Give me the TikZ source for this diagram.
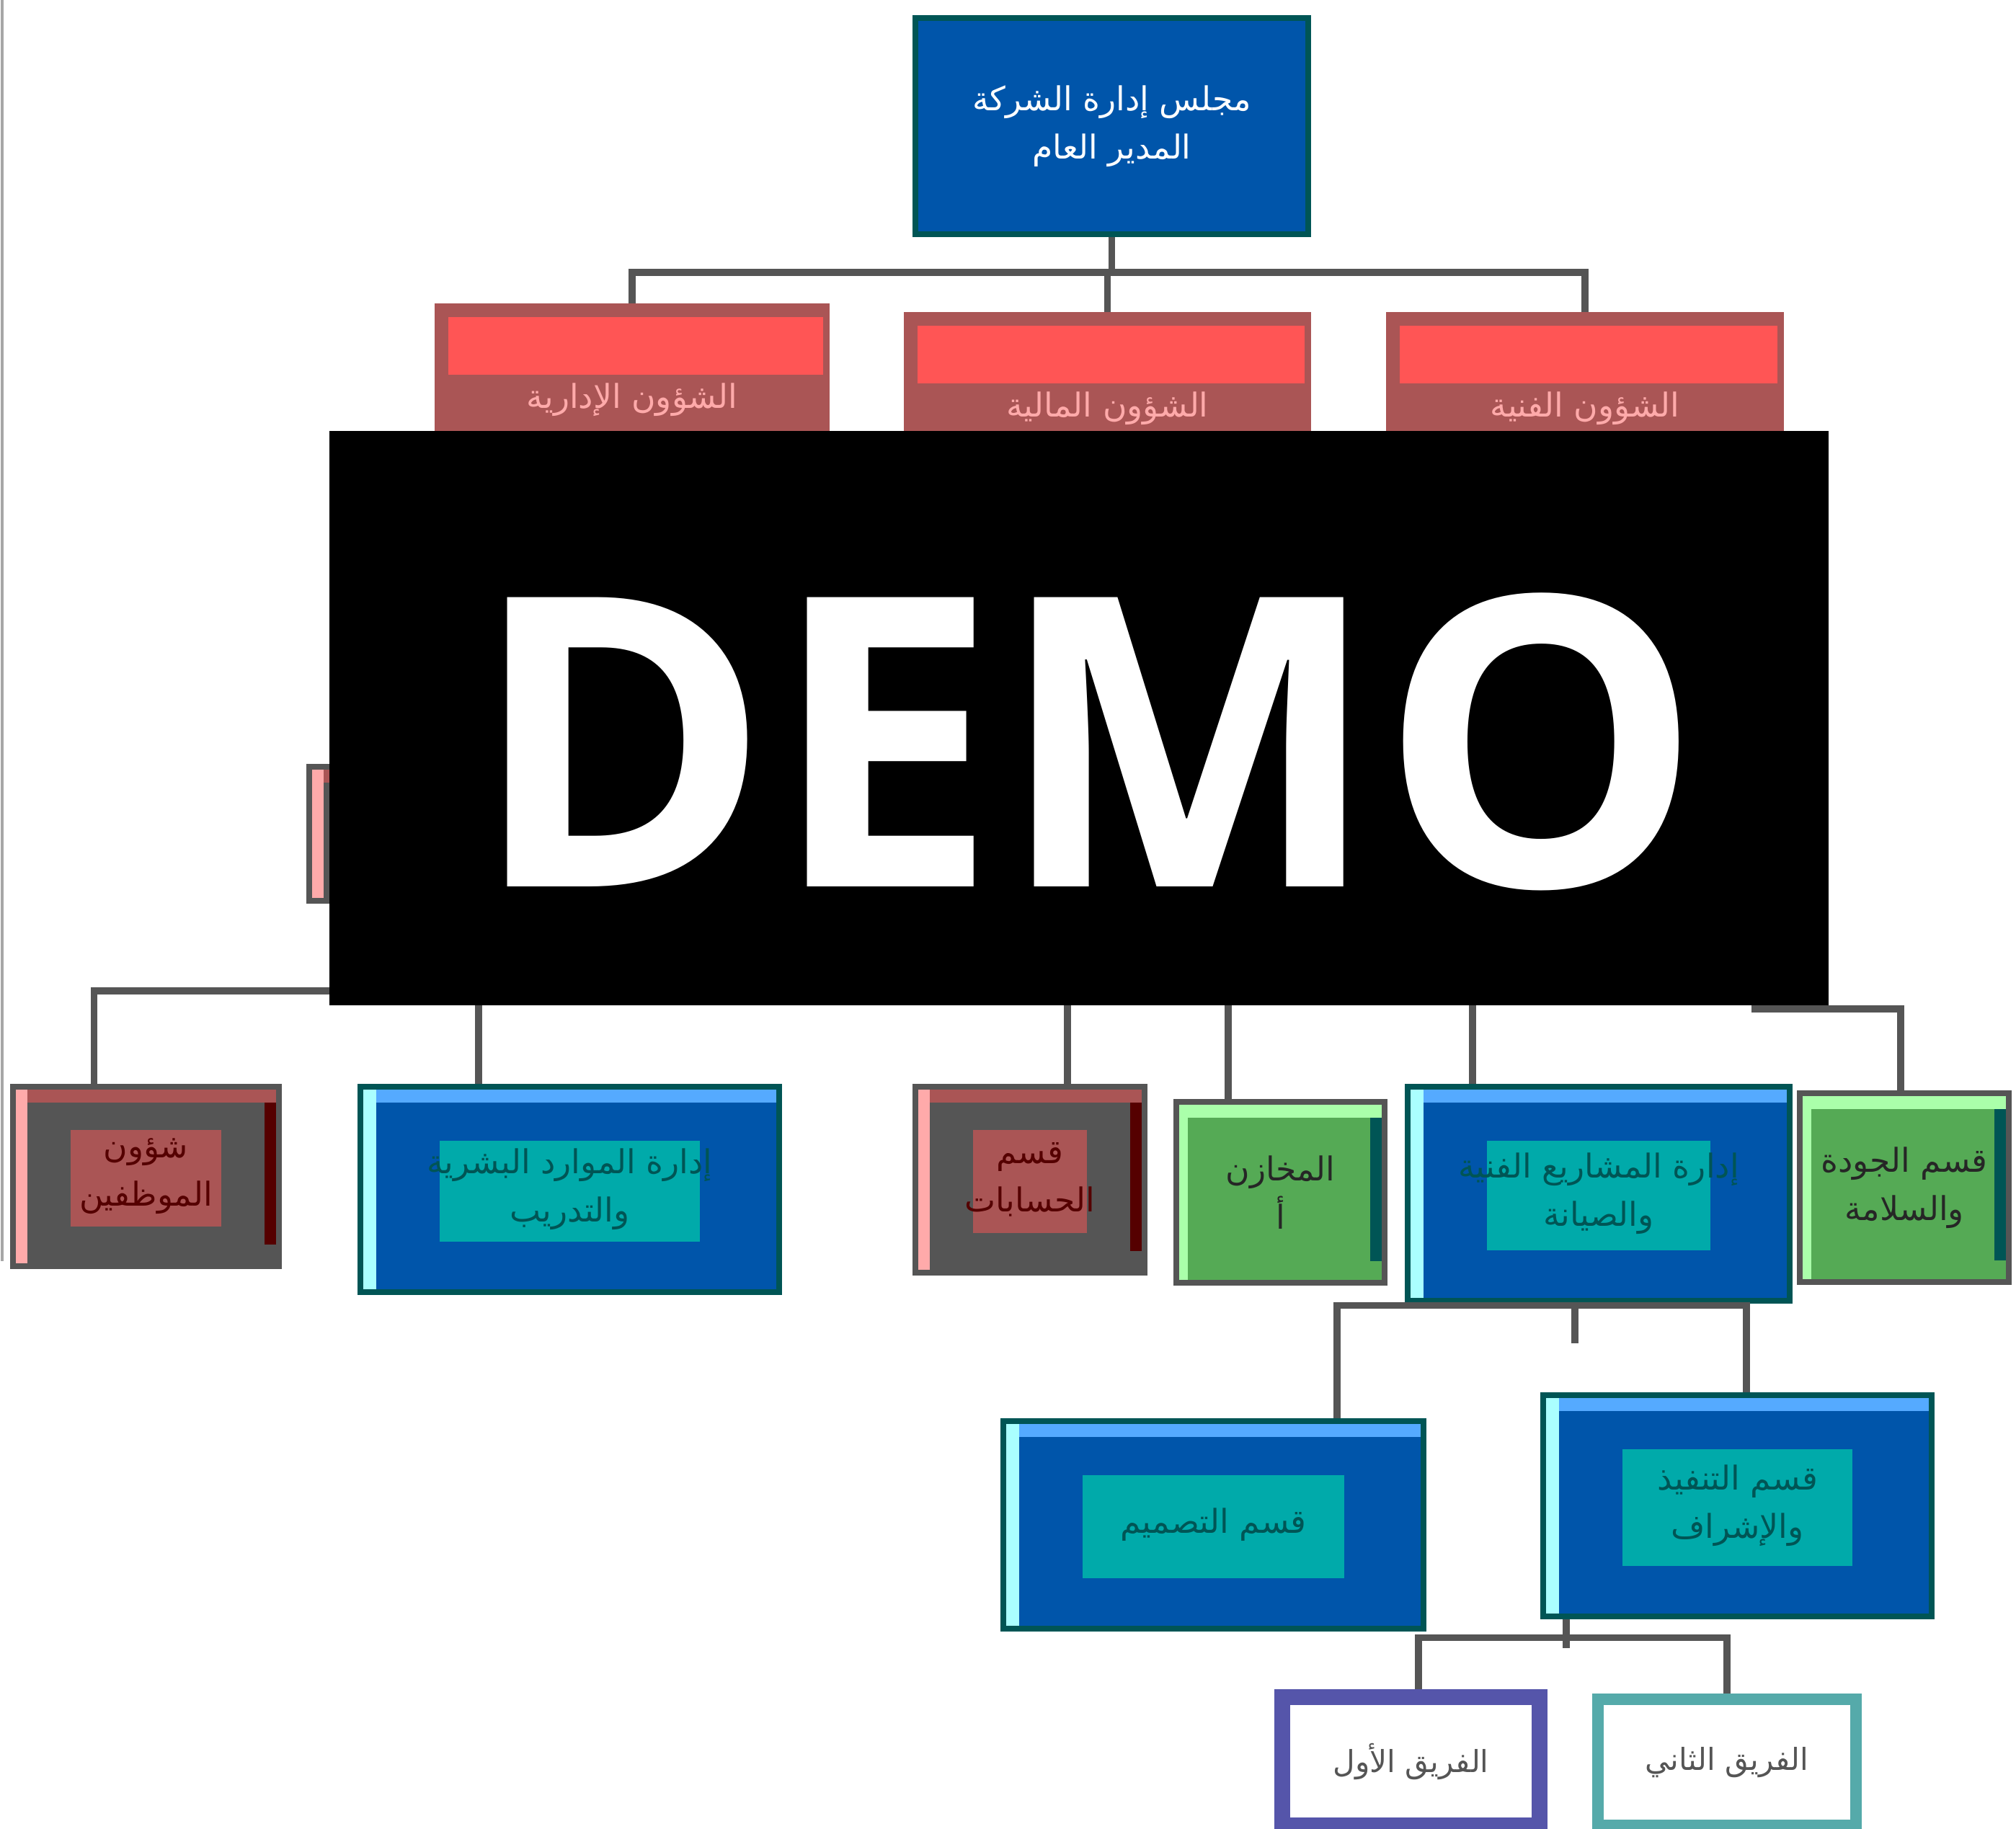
\documentclass[tikz,border=0pt]{standalone}
\usepackage{fontspec}
\newfontfamily\arfont[Script=Arabic]{DejaVu Sans}
\newfontfamily\demofont{Open Sans}
\TeXXeTstate=1
\newcommand{\artxt}[1]{\beginR #1\endR}
\definecolor{cblue}{HTML}{0055AA}
\definecolor{clblue}{HTML}{55AAFF}
\definecolor{ccyan}{HTML}{AAFFFF}
\definecolor{cteal}{HTML}{00AAAA}
\definecolor{cteal2}{HTML}{55AAAA}
\definecolor{cdteal}{HTML}{005555}
\definecolor{cred}{HTML}{FF5555}
\definecolor{cdred}{HTML}{AA5555}
\definecolor{cpink}{HTML}{FFAAAA}
\definecolor{cdkred}{HTML}{550000}
\definecolor{cgray}{HTML}{555555}
\definecolor{cgreen}{HTML}{55AA55}
\definecolor{clgreen}{HTML}{AAFFAA}
\definecolor{cpurple}{HTML}{5555AA}
\tikzset{
  box/.style={rectangle, inner sep=0pt, align=center, line width=2.2pt,
    font=\arfont\fontsize{13}{19}\selectfont},
  topbox/.style={box, fill=cblue, draw=cdteal, text=white},
  redbox/.style={box, fill=cdred, draw=cdred, text=cpink,
    path picture={
      \fill[cred] ([shift={(0.15,-0.15)}]path picture bounding box.north west) rectangle ([shift={(-0.05,-0.95)}]path picture bounding box.north east);
    }},
  graybox/.style={box, fill=cgray, draw=cgray, text=cdkred,
    path picture={
      \fill[cdred] (path picture bounding box.north west) rectangle ([yshift=-2.2mm]path picture bounding box.north east);
      \fill[cpink] (path picture bounding box.north west) rectangle ([xshift=2mm]path picture bounding box.south west);
      \fill[cdkred] ([yshift=-2.2mm]path picture bounding box.north east) rectangle ([xshift=-2mm,yshift=3mm]path picture bounding box.south east);
      \fill[cdred] ([shift={(0.8,-0.6)}]path picture bounding box.north west) rectangle ([shift={(-0.8,0.55)}]path picture bounding box.south east);
    }},
  bluebox/.style={box, fill=cblue, draw=cdteal, text=cdteal,
    path picture={
      \fill[clblue] (path picture bounding box.north west) rectangle ([yshift=-2.2mm]path picture bounding box.north east);
      \fill[ccyan] (path picture bounding box.north west) rectangle ([xshift=2.2mm]path picture bounding box.south west);
      \fill[cteal] ([shift={(1.1,-0.75)}]path picture bounding box.north west) rectangle ([shift={(-1.1,0.7)}]path picture bounding box.south east);
    }},
  greenbox/.style={box, fill=cgreen, draw=cgray, text=black!85,
    path picture={
      \fill[clgreen] (path picture bounding box.north west) rectangle ([yshift=-2.2mm]path picture bounding box.north east);
      \fill[clgreen] (path picture bounding box.north west) rectangle ([xshift=1.6mm]path picture bounding box.south west);
      \fill[cdteal] ([yshift=-2.2mm]path picture bounding box.north east) rectangle ([xshift=-2mm,yshift=3mm]path picture bounding box.south east);
    }},
  whitebox/.style={box, fill=white, text=cgray, font=\arfont\fontsize{12}{17}\selectfont},
  connline/.style={draw=cgray, line width=2.6pt},
}
\begin{document}
\begin{tikzpicture}
\useasboundingbox (0,0) rectangle (27.97,-25.37);
% thin rule on the left edge
\draw[gray!70, line width=1.4pt] (0.03,0) -- (0.03,-17.5);

% top
\node[topbox, minimum width=5.45cm, minimum height=3cm] (gm) at (15.425,-1.75)
  {\artxt{مجلس إدارة الشركة}\\\artxt{المدير العام}};

% first level
\node[redbox, minimum width=5.4cm, minimum height=2.6cm] (adm) at (8.77,-5.55) {\artxt{الشؤون الإدارية}};
\node[redbox, minimum width=5.57cm, minimum height=2.6cm] (fin) at (15.365,-5.67) {\artxt{الشؤون المالية}};
\node[redbox, minimum width=5.44cm, minimum height=2.6cm] (tec) at (21.99,-5.67) {\artxt{الشؤون الفنية}};
\coordinate (bus1) at (15.425,-3.78);
\draw[connline] (gm.south) -- (bus1);
\draw[connline] (bus1) -| (adm.north);
\draw[connline] (bus1) -| (tec.north);
\draw[connline] (bus1) -| (fin.north);

% node under the watermark
\node[graybox, minimum width=3cm, minimum height=1.86cm] (hid) at (5.79,-11.57) {};

% second level
\node[graybox, minimum width=3.69cm, minimum height=2.49cm] (emp) at (2.025,-16.325)
  {\artxt{شؤون}\\\artxt{الموظفين}};
\node[bluebox, minimum width=5.81cm, minimum height=2.85cm] (hr) at (7.905,-16.505)
  {\artxt{إدارة الموارد البشرية}\\\artxt{والتدريب}};
\node[graybox, minimum width=3.18cm, minimum height=2.58cm] (acc) at (14.29,-16.37)
  {\artxt{قسم}\\\artxt{الحسابات}};
\node[greenbox, minimum width=2.89cm, minimum height=2.51cm] (sto) at (17.765,-16.545)
  {\artxt{المخازن}\\\artxt{أ}};
\node[bluebox, minimum width=5.30cm, minimum height=2.97cm] (prj) at (22.18,-16.565)
  {\artxt{إدارة المشاريع الفنية}\\\artxt{والصيانة}};
\node[greenbox, minimum width=2.90cm, minimum height=2.62cm] (qa) at (26.42,-16.48)
  {\artxt{قسم الجودة}\\\artxt{والسلامة}};

\coordinate (jl) at (6.64,-13.75);
\coordinate (jm) at (24.30,-14.00);
\draw[connline] (jl) -| ([xshift=-7.2mm]emp.north);
\draw[connline] (jl) -- ([xshift=-12.65mm]hr.north);
\draw[connline] ([xshift=5.2mm]acc.north) -- ++(0,1.35);
\draw[connline] ([xshift=-7.25mm]sto.north) -- ++(0,1.55);
\draw[connline] ([xshift=-17.5mm]prj.north) -- ++(0,1.35);
\draw[connline] (jm) -| ([xshift=-0.5mm]qa.north);

% third level
\node[bluebox, minimum width=5.83cm, minimum height=2.88cm] (des) at (16.835,-21.16)
  {\artxt{قسم التصميم}};
\node[bluebox, minimum width=5.39cm, minimum height=3.07cm] (exe) at (24.105,-20.895)
  {\artxt{قسم التنفيذ}\\\artxt{والإشراف}};
\draw[connline] ([xshift=-3.3mm]prj.south) -- ++(0,-0.55);
\draw[connline] ([xshift=17.15mm]des.north) -- ++(0,1.57) -| ([xshift=1.25mm]exe.north);

% fourth level
\node[whitebox, draw=cpurple, line width=6pt, minimum width=3.57cm, minimum height=1.78cm] (t1) at (19.575,-24.44)
  {\artxt{الفريق الأول}};
\node[whitebox, draw=cteal2, line width=4.5pt, minimum width=3.58cm, minimum height=1.75cm] (t2) at (23.96,-24.455)
  {\artxt{الفريق الثاني}};
\draw[connline] ([xshift=-23.75mm]exe.south) -- ++(0,-0.4);
\draw[connline] ([xshift=1.05mm]t1.north) -- ++(0,0.72) -| (t2.north);

% watermark
\fill[black] (4.57,-5.98) rectangle (25.37,-13.95);
\node[text=white, font=\demofont\bfseries\fontsize{160}{160}\selectfont, inner sep=0pt] (demo) at (15.075,-10.295) {DEMO};
\end{tikzpicture}
\end{document}
